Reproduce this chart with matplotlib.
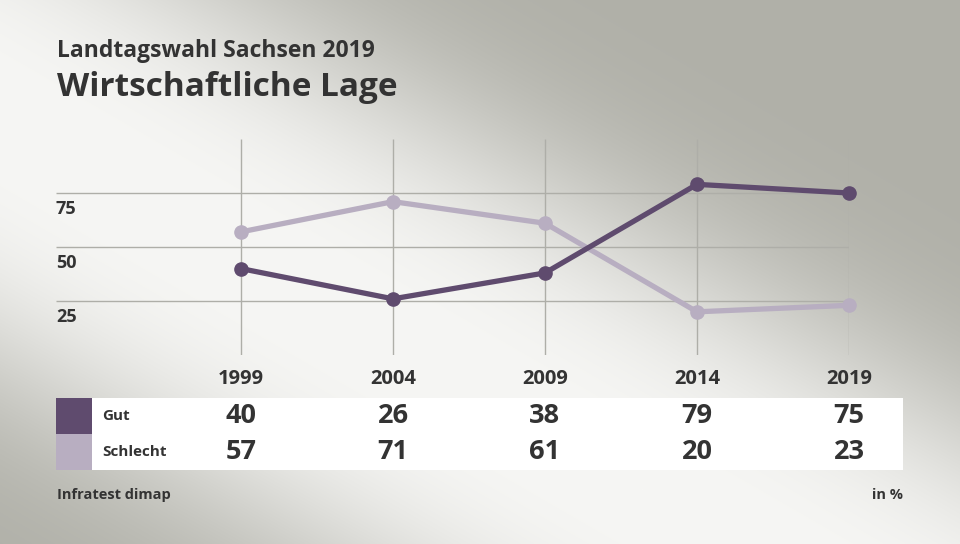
"""
Landtagswahl Sachsen 2019 - Wirtschaftliche Lage
"""

import numpy as np
import matplotlib.pyplot as plt
from matplotlib.patches import Rectangle
from matplotlib import transforms

# data
years = [1999, 2004, 2009, 2014, 2019]
gut = [40, 26, 38, 79, 75]
schlecht = [57, 71, 61, 20, 23]
series_names = ["Gut", "Schlecht"]
y_ticks = [25, 50, 75]

title = "Landtagswahl Sachsen 2019"
subtitle = "Wirtschaftliche Lage"
source = "Infratest dimap"
unit = "in %"

# style
W, H = 960, 544
text_col = "#333333"
grid_col = "#aeaea8"
colors = ["#5f4b6e", "#b8aec1"]

plt.rcParams['font.family'] = ['Open Sans', 'DejaVu Sans']

fig = plt.figure(figsize=(W / 100, H / 100), dpi=100)

# background: light diagonal band, grey towards top-right / bottom-left
bg = fig.add_axes([0, 0, 1, 1])
yy, xx = np.mgrid[0:H, 0:W]
ang = np.deg2rad(30)
v = -(xx - 380) * np.sin(ang) + (yy - 280) * np.cos(ang) - 50
t = np.exp(-np.abs(v / 240.0) ** 3)
edge = np.array([176, 176, 168]) / 255
centre = np.array([246, 246, 244]) / 255
img = edge + (centre - edge) * t[..., None]
bg.imshow(img, extent=(0, W, H, 0), aspect='auto', zorder=0)
bg.set_xlim(0, W)
bg.set_ylim(H, 0)
bg.axis('off')

# titles
bg.text(57, 57, title, fontsize=16.5, fontweight='bold', color=text_col,
        va='baseline', ha='left')
bg.text(57, 96, subtitle, fontsize=24, fontweight='bold', color=text_col,
        va='baseline', ha='left')

# chart area in pixels
px_left, px_right = 56, 849
px_top, px_bottom = 139, 355
px_per_year = (849 - 241) / (years[-1] - years[0])
x0 = years[0] - (241 - px_left) / px_per_year

ax = fig.add_axes([px_left / W, 1 - px_bottom / H,
                   (px_right - px_left) / W, (px_bottom - px_top) / H])
ax.patch.set_alpha(0)
ax.set_xlim(x0, years[-1])
ax.set_ylim(0, 100)
for s in ax.spines.values():
    s.set_visible(False)
ax.set_xticks([])
ax.set_yticks([])

# grid
ax.hlines(y_ticks, x0, years[-1], color=grid_col, lw=1, zorder=1)
ax.vlines(years, 0, 100, color=grid_col, lw=1, zorder=1)

# y labels just below their grid line
for val in y_ticks:
    ax.text(x0, val - 7.4, str(val), fontsize=13, fontweight='bold',
            color=text_col, ha='left', va='center')

# lines (Schlecht first so Gut sits on top)
for vals, col in [(schlecht, colors[1]), (gut, colors[0])]:
    ax.plot(years, vals, color=col, lw=3.8, marker='o', markersize=9.5,
            solid_capstyle='round', clip_on=False, zorder=3)

# x labels and table, x in years / y in pixels
tr = transforms.blended_transform_factory(ax.transData, bg.transData)
for yr in years:
    ax.text(yr, 379, str(yr), transform=tr, fontsize=14.5, fontweight='bold',
            color=text_col, ha='center', va='center')

bg.add_patch(Rectangle((92, 398), 903 - 92, 72, facecolor='white',
                       edgecolor='none', zorder=1))
row_y = [416, 452]
for i, (name, vals) in enumerate(zip(series_names, [gut, schlecht])):
    bg.add_patch(Rectangle((56, 398 + 36 * i), 36, 36, facecolor=colors[i],
                           edgecolor='none', zorder=1))
    bg.text(102, row_y[i], name, fontsize=11, fontweight='bold',
            color=text_col, ha='left', va='center', zorder=2)
    for yr, val in zip(years, vals):
        ax.text(yr, row_y[i], str(val), transform=tr, fontsize=19.5,
                fontweight='bold', color=text_col, ha='center', va='center')

# footer
bg.text(57, 495, source, fontsize=10.5, fontweight='bold', color=text_col,
        ha='left', va='center')
bg.text(903, 495, unit, fontsize=10.5, fontweight='bold', color=text_col,
        ha='right', va='center')

fig.savefig("out.png", dpi=100)
